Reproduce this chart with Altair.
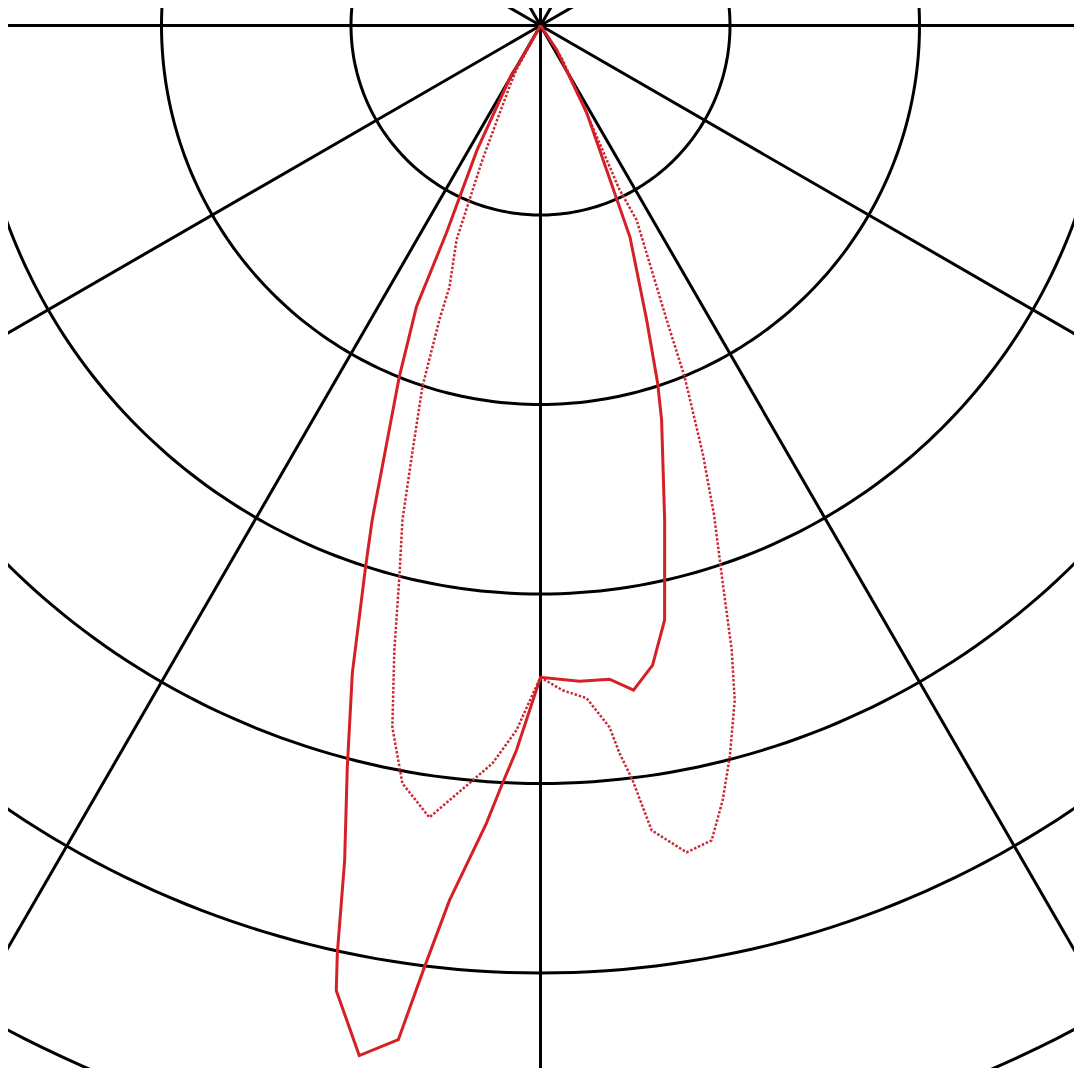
import altair as alt
import pandas as pd
import numpy as np

# Polar light-distribution data: angle (deg from nadir, + = right), intensity (grid ring = 100)
solid_angle = [-30, -29.6, -30.6, -27.0, -24.4, -23.8, -21.9, -18.8, -17.9, -16.2,
               -14.6, -13.2, -12.35, -11.95, -9.98, -7.98, -7.03, -5.94, -3.88, -2.87,
               -1.9, 0, 3.41, 6.03, 7.97, 9.94, 11.79, 14.09, 17.07, 18.14,
               19.83, 22.93, 27.9, 33.7, 35]
solid_value = [0, 22.5, 30.1, 73.8, 120.1, 162.2, 199.8, 275.6, 300.4, 355.9,
               404.5, 452.6, 501.3, 520.5, 551.9, 540.4, 500.8, 464.2, 422.0, 400.4,
               382.7, 344, 346.6, 346.9, 354.2, 342.7, 320.5, 269.1, 217.7, 198.5,
               165.1, 121.2, 52.0, 15.2, 0]

dotted_angle = [-30, -28.6, -26.9, -23.4, -21.4, -19.2, -18.96, -18.1, -16.7, -15.6,
                -14.35, -13.17, -11.92, -10.33, -7.99, -5.36, -3.73, -1.95, -0.52, 0,
                1.9, 3.92, 5.62, 6.2, 6.96, 7.86, 10.02, 11.86, 13.23, 14.5,
                16.06, 17.02, 18.1, 19.52, 20.77, 22.3, 23.2, 26.3, 25.7,
                27.5, 32.9, 35]
dotted_value = [0, 26.5, 36.1, 77.1, 121.4, 146.0, 164.2, 200.6, 235.5, 270.9,
                300.5, 338.5, 378.5, 406.5, 422.0, 401.6, 390.2, 372.1, 350.8, 344,
                351.0, 355.8, 372.1, 386.3, 401.3, 428.7, 443.1, 439.4, 420.0, 398.8,
                370.5, 344.7, 309.6, 274.1, 241.3, 200.4, 169.0, 114.4, 96.2,
                56.0, 21.4, 0]

ring_values = [100, 200, 300, 400, 500, 600, 700]
spoke_angles = [0, 30, 60, 90, 120, 150, 180, 210, 240, 270, 300, 330]
spoke_length = 700

# plot-area geometry (structure only)
W = 1066
H = 1060
PX_PER_UNIT = 1.895
CX, CY = 532.5, 17.5
x_domain = [-CX / PX_PER_UNIT, (W - CX) / PX_PER_UNIT]
y_domain = [(CY - H) / PX_PER_UNIT, CY / PX_PER_UNIT]

curves = pd.concat([
    pd.DataFrame({"series": "solid", "i": range(len(solid_angle)),
                  "angle": solid_angle, "value": solid_value}),
    pd.DataFrame({"series": "dotted", "i": range(len(dotted_angle)),
                  "angle": dotted_angle, "value": dotted_value}),
])

ring_rows = []
for rv in ring_values:
    for a in np.arange(0, 361, 1):
        ring_rows.append({"ring": rv, "angle": float(a), "value": rv})
rings = pd.DataFrame(ring_rows)
spokes = pd.DataFrame({"angle": spoke_angles, "value": spoke_length})

xs = alt.Scale(domain=x_domain, nice=False, zero=False)
ys = alt.Scale(domain=y_domain, nice=False, zero=False)

polar_x = "datum.value * sin(datum.angle * PI / 180)"
polar_y = "-datum.value * cos(datum.angle * PI / 180)"

ring_layer = alt.Chart(rings).transform_calculate(
    x=polar_x, y=polar_y
).mark_line(color="black", strokeWidth=3, clip=True).encode(
    x=alt.X("x:Q", scale=xs, axis=None),
    y=alt.Y("y:Q", scale=ys, axis=None),
    detail="ring:N",
    order="angle:Q",
)

spoke_layer = alt.Chart(spokes).transform_calculate(
    x0="0", y0="0", x=polar_x, y=polar_y
).mark_rule(color="black", strokeWidth=3, clip=True).encode(
    x=alt.X("x0:Q", scale=xs, axis=None),
    y=alt.Y("y0:Q", scale=ys, axis=None),
    x2="x:Q",
    y2="y:Q",
)

solid_layer = alt.Chart(curves).transform_filter(
    "datum.series == 'solid'"
).transform_calculate(
    x=polar_x, y=polar_y
).mark_line(color="#d42026", strokeWidth=3, clip=True, strokeJoin="miter").encode(
    x=alt.X("x:Q", scale=xs, axis=None),
    y=alt.Y("y:Q", scale=ys, axis=None),
    order="i:Q",
)

dotted_layer = alt.Chart(curves).transform_filter(
    "datum.series == 'dotted'"
).transform_calculate(
    x=polar_x, y=polar_y
).mark_line(color="#c92a36", strokeWidth=2.5, strokeDash=[2.5, 1.8], clip=True).encode(
    x=alt.X("x:Q", scale=xs, axis=None),
    y=alt.Y("y:Q", scale=ys, axis=None),
    order="i:Q",
)

chart = alt.layer(ring_layer, spoke_layer, dotted_layer, solid_layer).properties(
    width=W, height=H, padding=0, autosize="none", background="white"
).configure_view(stroke=None)

chart.save("out.html", embed_options={"renderer": "svg", "actions": False})
